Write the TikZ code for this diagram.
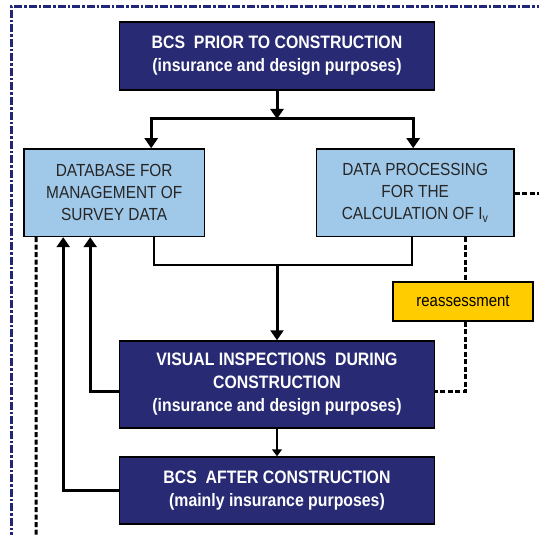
\documentclass[tikz,border=0pt]{standalone}
\usepackage{fontspec}
\setmainfont{Liberation Sans}
\newfontfamily\narrowfont{Liberation Sans}[FakeStretch=0.88]
\usetikzlibrary{arrows.meta}

\definecolor{navy}{RGB}{40,42,115}
\definecolor{skyblue}{RGB}{160,200,233}
\definecolor{gold}{RGB}{255,204,0}
\definecolor{framecol}{RGB}{34,38,118}

\tikzset{
	darkbox/.style={draw=black, line width=1.5pt, fill=navy, text=white, align=center,
		font=\narrowfont\fontsize{18}{23}\selectfont\bfseries, inner sep=0pt, minimum width=315pt},
	lightbox/.style={draw=black, line width=1.5pt, fill=skyblue, text=black!85, align=center,
		font=\narrowfont\fontsize{17.5}{22}\selectfont, inner sep=0pt, minimum height=87.5pt},
	notebox/.style={draw=black, line width=1.5pt, fill=gold, font=\narrowfont\fontsize{17}{18}\selectfont,
		inner sep=0pt, minimum width=140pt, minimum height=39pt},
	conn/.style={line width=3pt, -{Triangle[width=13pt,length=10pt]}},
	thinconn/.style={line width=1.5pt},
	dashconn/.style={line width=3pt, dash pattern=on 5pt off 2.5pt},
	frameline/.style={draw=framecol, line width=3pt, dash pattern=on 8pt off 2pt on 2.5pt off 2pt}
}

\begin{document}
\begin{tikzpicture}[x=1pt, y=-1pt]
		\useasboundingbox (0,0) rectangle (539,535);

		% Frame
		\draw[frameline] (11,540) -- (11,7) -- (545,7);

		% Boxes
		\node[darkbox, minimum height=68pt] (prior) at (277,56)
			{BCS\ \ PRIOR TO CONSTRUCTION\\(insurance and design purposes)};
		\node[lightbox, minimum width=180.5pt] (db) at (114.2,192.7)
			{DATABASE FOR\\MANAGEMENT OF\\SURVEY DATA};
		\node[lightbox, minimum width=197.5pt] (calc) at (415.2,192.7)
			{DATA PROCESSING\\FOR THE\\CALCULATION OF I\textsubscript{v}};
		\node[notebox] (reass) at (463,301.5) {reassessment};
		\node[darkbox, minimum height=87pt] (visual) at (277,384.5)
			{VISUAL INSPECTIONS\ \ DURING\\CONSTRUCTION\\(insurance and design purposes)};
		\node[darkbox, minimum height=67pt] (after) at (277,490.5)
			{BCS\ \ AFTER CONSTRUCTION\\(mainly insurance purposes)};

		% Fork and merge points
		\coordinate (fork) at (277,119);
		\coordinate (merge) at (277,265);
		\coordinate (dbtail) at (36,540);
		\coordinate (calctail) at (545,193.6);

		% Solid connectors
		\draw[conn] (prior.south) -- (fork);
		\draw[conn, {Triangle[width=13pt,length=10pt]}-{Triangle[width=13pt,length=10pt]}]
			([xshift=37pt]db.north) |- (fork) -| ([xshift=-2pt]calc.north);
		\draw[thinconn] ([xshift=40pt]db.south) |- (merge) -| ([xshift=-3pt]calc.south);
		\draw[conn] (merge) -- (visual.north);
		\draw[thinconn, -{Triangle[width=10pt,length=7pt]}] (visual.south) -- (after.north);
		\draw[conn] ([yshift=-7pt]visual.west) -| ([xshift=-24pt]db.south);
		\draw[conn] (after.west) -| ([xshift=-51pt]db.south);

		% Dashed connectors
		\draw[dashconn] ([xshift=-78pt]db.south) -- (dbtail);
		\draw[dashconn] (calc.east |- calctail) -- (calctail);
		\draw[dashconn] ([xshift=50pt]calc.south) -- ([xshift=50pt]calc.south |- reass.north);
		\draw[dashconn] ([xshift=2.6pt]reass.south) |- ([yshift=-7pt]visual.east);
	\end{tikzpicture}
\end{document}
